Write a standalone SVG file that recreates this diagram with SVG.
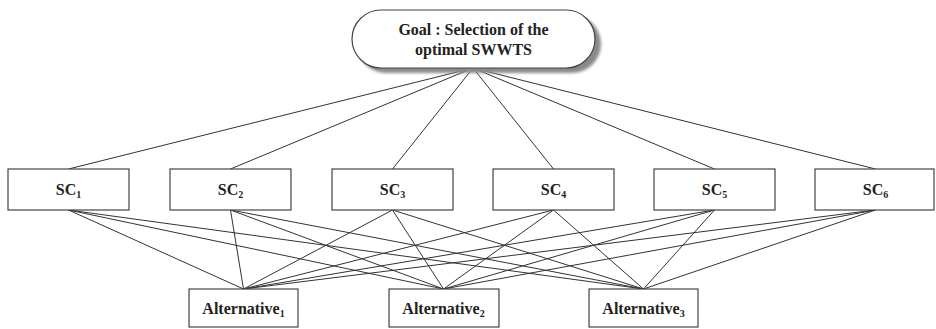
<svg xmlns="http://www.w3.org/2000/svg" width="936" height="329" viewBox="0 0 936 329">
<defs>
<style>
.box{fill:#fff;stroke:#444;stroke-width:1.2}
.lbl{font-family:"Liberation Serif","DejaVu Serif",serif;font-weight:bold;font-size:16px;fill:#222;text-anchor:middle}
.sub{font-size:10px}
.con line{stroke:#333;stroke-width:1}
</style>
<filter id="blur" x="-10%" y="-20%" width="120%" height="140%"><feGaussianBlur stdDeviation="1.5"/></filter>
</defs>
<rect width="936" height="329" fill="#fff"/>
<g id="connectors" class="con">
<line x1="473" y1="68" x2="68.5" y2="169"/>
<line x1="473" y1="68" x2="230.5" y2="169"/>
<line x1="473" y1="68" x2="392.5" y2="169"/>
<line x1="473" y1="68" x2="553.5" y2="169"/>
<line x1="473" y1="68" x2="714.5" y2="169"/>
<line x1="473" y1="68" x2="875.5" y2="169"/>
<line x1="68.5" y1="210" x2="243.5" y2="289"/>
<line x1="68.5" y1="210" x2="443.5" y2="289"/>
<line x1="68.5" y1="210" x2="643.5" y2="289"/>
<line x1="230.5" y1="210" x2="243.5" y2="289"/>
<line x1="230.5" y1="210" x2="443.5" y2="289"/>
<line x1="230.5" y1="210" x2="643.5" y2="289"/>
<line x1="392.5" y1="210" x2="243.5" y2="289"/>
<line x1="392.5" y1="210" x2="443.5" y2="289"/>
<line x1="392.5" y1="210" x2="643.5" y2="289"/>
<line x1="553.5" y1="210" x2="243.5" y2="289"/>
<line x1="553.5" y1="210" x2="443.5" y2="289"/>
<line x1="553.5" y1="210" x2="643.5" y2="289"/>
<line x1="714.5" y1="210" x2="243.5" y2="289"/>
<line x1="714.5" y1="210" x2="443.5" y2="289"/>
<line x1="714.5" y1="210" x2="643.5" y2="289"/>
<line x1="875.5" y1="210" x2="243.5" y2="289"/>
<line x1="875.5" y1="210" x2="443.5" y2="289"/>
<line x1="875.5" y1="210" x2="643.5" y2="289"/>
</g>
<g id="goal">
<rect x="357" y="15" width="244" height="58" rx="29" fill="#8a8a8a" filter="url(#blur)"/>
<rect class="box" x="352" y="10" width="243" height="58" rx="29"/>
<text class="lbl" x="473.5" y="35">Goal : Selection of the</text>
<text class="lbl" x="473.5" y="55">optimal SWWTS</text>
</g>
<g id="sc1"><rect class="box" x="8" y="169" width="121" height="41"/><text class="lbl" x="68.5" y="195">SC<tspan class="sub" dy="3">1</tspan></text></g>
<g id="sc2"><rect class="box" x="170" y="169" width="121" height="41"/><text class="lbl" x="230.5" y="195">SC<tspan class="sub" dy="3">2</tspan></text></g>
<g id="sc3"><rect class="box" x="332" y="169" width="121" height="41"/><text class="lbl" x="392.5" y="195">SC<tspan class="sub" dy="3">3</tspan></text></g>
<g id="sc4"><rect class="box" x="493" y="169" width="121" height="41"/><text class="lbl" x="553.5" y="195">SC<tspan class="sub" dy="3">4</tspan></text></g>
<g id="sc5"><rect class="box" x="654" y="169" width="121" height="41"/><text class="lbl" x="714.5" y="195">SC<tspan class="sub" dy="3">5</tspan></text></g>
<g id="sc6"><rect class="box" x="815" y="169" width="119" height="41"/><text class="lbl" x="875.5" y="195">SC<tspan class="sub" dy="3">6</tspan></text></g>
<g id="alt1"><rect class="box" x="189" y="289" width="109" height="38"/><text class="lbl" x="243.5" y="314">Alternative<tspan class="sub" dy="3">1</tspan></text></g>
<g id="alt2"><rect class="box" x="389" y="289" width="110" height="38"/><text class="lbl" x="443.5" y="314">Alternative<tspan class="sub" dy="3">2</tspan></text></g>
<g id="alt3"><rect class="box" x="589" y="289" width="109" height="38"/><text class="lbl" x="643.5" y="314">Alternative<tspan class="sub" dy="3">3</tspan></text></g>
</svg>
